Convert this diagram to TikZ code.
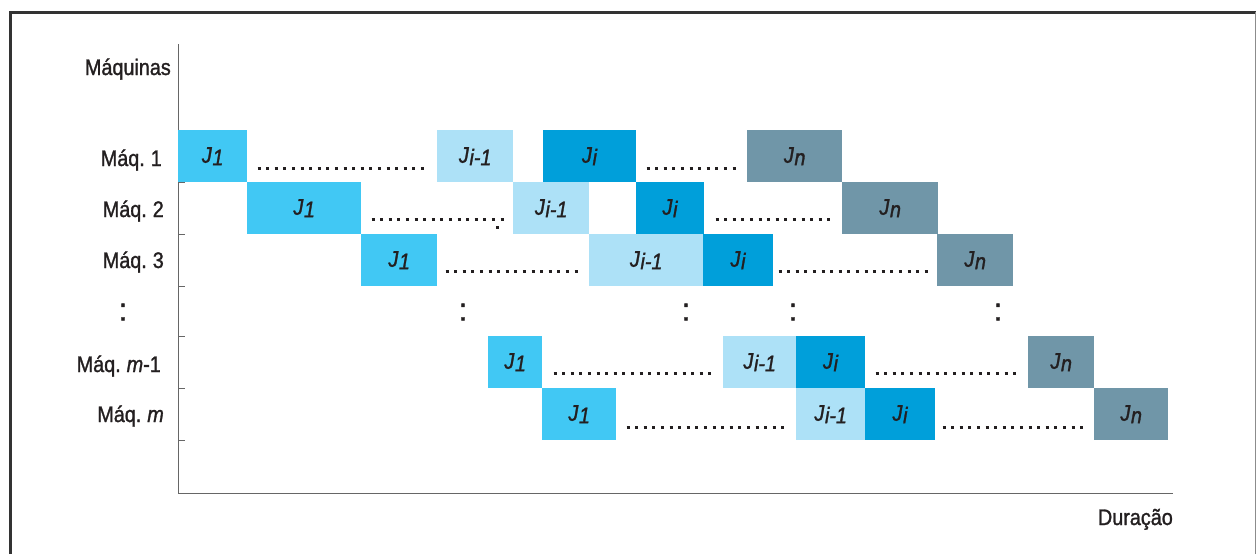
\documentclass[tikz,border=0pt]{standalone}
\usepackage{fontspec}
\setmainfont{Liberation Sans}[FakeStretch=0.88, FakeBold=1.3, WordSpace=0.75]
\definecolor{cJa}{HTML}{41C8F4}
\definecolor{cJb}{HTML}{ADE1F7}
\definecolor{cJc}{HTML}{009FDA}
\definecolor{cJd}{HTML}{7096A8}
\definecolor{ink}{HTML}{231F20}
\definecolor{axisgray}{HTML}{666666}
\newcommand{\jlab}[2]{\textit{#1}\kern0.5pt\raisebox{-2.5pt}{\textit{#2}}}
\tikzset{
  jbox/.style={draw=none, inner sep=0pt, anchor=north west, minimum height=52pt,
    font=\fontsize{22.5}{22.5}\selectfont, text=ink},
  lab/.style={font=\fontsize{22.5}{22.5}\selectfont, text=ink, inner sep=0pt, anchor=base east},
  vdots/.style={font=\fontsize{32}{32}\selectfont, text=ink, inner sep=0pt, anchor=base},
  dotrow/.style={draw=ink, line width=3pt, dash pattern=on 3pt off 5.6pt},
  axisline/.style={draw=axisgray, line width=1pt},
}
\begin{document}
\begin{tikzpicture}[x=1pt,y=-1pt]
\useasboundingbox (0,0) rectangle (1257,554);
% frame
\draw[line width=3pt, draw=black!80] (10,554) -- (10,12) -- (1256,12);
\draw[line width=1pt, draw=black!45] (1255,12) -- (1255,554);
% axes
\coordinate (ytop) at (178,44);
\coordinate (orig) at (178,493);
\coordinate (xend) at (1173,493);
\draw[axisline] (ytop) -- (orig) -- (xend);
\foreach \t in {130,182,234,286,336,388,440}
  \draw[axisline] (178,\t) -- (185,\t);
% labels
\node[lab] (lmaq) at (171,75) {Máquinas};
\node[lab] (l1) at (162,166) {Máq. 1};
\node[lab] (l2) at (164,217) {Máq. 2};
\node[lab] (l3) at (164,268) {Máq. 3};
\node[vdots] (lcol) at (123,320.5) {:};
\node[lab] (lm1) at (161,372) {Máq. \textit{m}-1};
\node[lab] (lm) at (164,422) {Máq. \textit{m}};
\node[lab] (ldur) at (1173,525) {Duração};
% row 1
\node[jbox, fill=cJa, minimum width=69pt] (a1) at (178,130) {\jlab{J}{1}};
\node[jbox, fill=cJb, minimum width=76pt] (b1) at (437,130) {\jlab{J}{i-1}};
\node[jbox, fill=cJc, minimum width=93pt] (c1) at (543,130) {\jlab{J}{i}};
\node[jbox, fill=cJd, minimum width=95pt] (d1) at (747,130) {\jlab{J}{n}};
% row 2
\node[jbox, fill=cJa, minimum width=114pt] (a2) at (247,182) {\jlab{J}{1}};
\node[jbox, fill=cJb, minimum width=76pt] (b2) at (513,182) {\jlab{J}{i-1}};
\node[jbox, fill=cJc, minimum width=68pt] (c2) at (636,182) {\jlab{J}{i}};
\node[jbox, fill=cJd, minimum width=96pt] (d2) at (842,182) {\jlab{J}{n}};
% row 3
\node[jbox, fill=cJa, minimum width=76pt] (a3) at (361,234) {\jlab{J}{1}};
\node[jbox, fill=cJb, minimum width=114pt] (b3) at (589,234) {\jlab{J}{i-1}};
\node[jbox, fill=cJc, minimum width=70pt] (c3) at (703,234) {\jlab{J}{i}};
\node[jbox, fill=cJd, minimum width=76pt] (d3) at (937,234) {\jlab{J}{n}};
% row m-1
\node[jbox, fill=cJa, minimum width=54pt] (a4) at (488,336) {\jlab{J}{1}};
\node[jbox, fill=cJb, minimum width=73pt] (b4) at (723,336) {\jlab{J}{i-1}};
\node[jbox, fill=cJc, minimum width=69pt] (c4) at (796,336) {\jlab{J}{i}};
\node[jbox, fill=cJd, minimum width=66pt] (d4) at (1028,336) {\jlab{J}{n}};
% row m
\node[jbox, fill=cJa, minimum width=74pt] (a5) at (542,388) {\jlab{J}{1}};
\node[jbox, fill=cJb, minimum width=69pt] (b5) at (796,388) {\jlab{J}{i-1}};
\node[jbox, fill=cJc, minimum width=70pt] (c5) at (865,388) {\jlab{J}{i}};
\node[jbox, fill=cJd, minimum width=74pt] (d5) at (1094,388) {\jlab{J}{n}};
% dotted ellipses
\draw[dotrow] (257.5,168) -- (425,168);
\draw[dotrow] (646.5,168) -- (738,168);
\draw[dotrow] (371.5,219) -- (505,219);
\fill[ink] (495.5,225.5) rectangle (498.5,228.5);
\draw[dotrow] (715.5,219) -- (833,219);
\draw[dotrow] (445.5,271) -- (580,271);
\draw[dotrow] (778.5,271) -- (930,271);
\draw[dotrow] (553.5,373) -- (714,373);
\draw[dotrow] (875.5,373) -- (1019,373);
\draw[dotrow] (626.5,427) -- (787,427);
\draw[dotrow] (942.5,427) -- (1086,427);
% vertical ellipses in the gap row
\node[vdots] (v1) at (463,320.5) {:};
\node[vdots] (v2) at (686,320.5) {:};
\node[vdots] (v3) at (793,320.5) {:};
\node[vdots] (v4) at (998,320.5) {:};
\end{tikzpicture}
\end{document}
